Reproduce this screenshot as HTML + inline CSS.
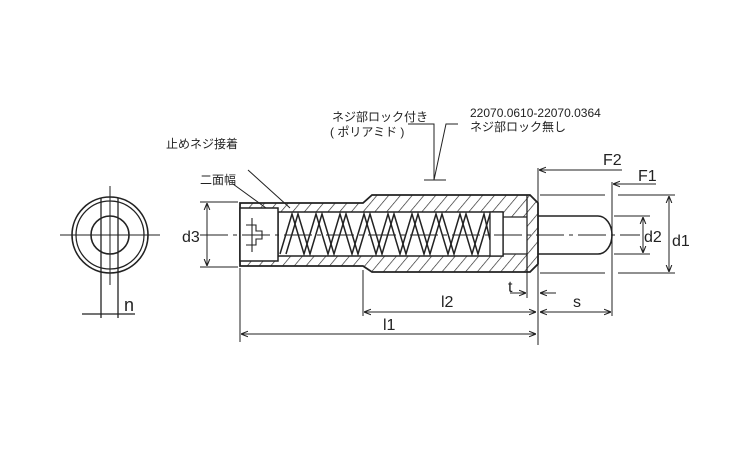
<!DOCTYPE html>
<html><head><meta charset="utf-8"><style>
html,body{margin:0;padding:0;background:#fff;}
svg{display:block;}
text{font-family:"Liberation Sans","Noto Sans CJK JP",sans-serif;fill:#222;}
</style></head><body>
<svg width="750" height="450" viewBox="0 0 750 450" xmlns="http://www.w3.org/2000/svg">
<defs>
<pattern id="h" width="9" height="9" patternUnits="userSpaceOnUse" patternTransform="rotate(40)">
<line x1="0" y1="0" x2="0" y2="9" stroke="#222" stroke-width="1.3"/>
</pattern>
<marker id="a" viewBox="0 0 10 10" refX="10" refY="5" markerWidth="7" markerHeight="7" orient="auto-start-reverse"><path d="M0,1 L10,5 L0,9" fill="none" stroke="#222" stroke-width="1.5"/></marker>
</defs>
<g fill="none" stroke="#222" stroke-width="1.3">
<circle cx="110" cy="235" r="38" stroke-width="1.6"/>
<circle cx="110" cy="235" r="34"/>
<circle cx="110" cy="235" r="19" stroke-width="1.6"/>
<line x1="101" y1="198" x2="101" y2="318"/><line x1="118" y1="198" x2="118" y2="318"/>
<line x1="60" y1="235" x2="160" y2="235" stroke-width="1"/>
<line x1="110" y1="186" x2="110" y2="285" stroke-width="1"/>
<line x1="82" y1="314" x2="135" y2="314"/>
<path d="M240,203 L363,203 L372,195 L530,195 L538,203 L538,264 L530,272 L372,272 L363,266 L240,266 Z
M278,212 L503,212 L503,217 L527,217 L527,254 L503,254 L503,256 L278,256 Z" fill="url(#h)" fill-rule="evenodd" stroke="none"/>
<path d="M240,203 L363,203 L372,195 L530,195 L538,203 L538,264 L530,272 L372,272 L363,266 L240,266 Z" stroke-width="1.8"/>
<path d="M278,212 L503,212 L503,256 L278,256 Z" stroke-width="1.5"/>
<line x1="527" y1="195" x2="527" y2="272"/>
<line x1="503" y1="217" x2="527" y2="217"/><line x1="503" y1="254" x2="527" y2="254"/>
<rect x="240" y="208" width="38" height="53" fill="#fff" stroke-width="1.5"/>
<path d="M246,225 h10 v6 h6 v8 h-6 v6 h-10 M252,218 v34 M256,231 h4" stroke-width="1.1"/>
<!-- spring -->
<path d="M280,254 L292,214 L304,254 L316,214 L328,254 L340,214 L352,254 L364,214 L376,254 L388,214 L400,254 L412,214 L424,254 L436,214 L448,254 L460,214 L472,254 L484,214 L490,240" stroke-width="1.5"/>
<path d="M286,254 L298,214 L310,254 L322,214 L334,254 L346,214 L358,254 L370,214 L382,254 L394,214 L406,254 L418,214 L430,254 L442,214 L454,254 L466,214 L478,254 L490,214" stroke-width="1.5"/>
<rect x="490" y="212" width="13" height="44" fill="#fff" stroke-width="1.3"/>
<path d="M538,216 L598,216 A14,19 0 0 1 598,254 L538,254" stroke-width="1.6"/>
<line x1="200" y1="235" x2="640" y2="235" stroke-width="1" stroke-dasharray="28,5,4,5"/>
<path d="M233,184 L266,208 M248,170 L290,208" stroke-width="1"/>
<path d="M408,124 L434,124 L434,180 L446,124 L458,124 M424,180 L446,180" stroke-width="1"/>
<g stroke-width="1">
<line x1="200" y1="202" x2="238" y2="202"/><line x1="200" y1="267" x2="238" y2="267"/>
<line x1="207" y1="203" x2="207" y2="266" marker-start="url(#a)" marker-end="url(#a)"/>
<line x1="540" y1="195" x2="605" y2="195"/><line x1="618" y1="195" x2="675" y2="195"/>
<line x1="540" y1="273" x2="605" y2="273"/><line x1="618" y1="273" x2="675" y2="273"/>
<line x1="614" y1="216" x2="650" y2="216"/><line x1="614" y1="254" x2="650" y2="254"/>
<line x1="669" y1="196" x2="669" y2="272" marker-start="url(#a)" marker-end="url(#a)"/>
<line x1="643" y1="217" x2="643" y2="253" marker-start="url(#a)" marker-end="url(#a)"/>
<line x1="538" y1="168" x2="538" y2="345"/>
<line x1="612" y1="182" x2="612" y2="316"/>
<line x1="539" y1="170" x2="622" y2="170" marker-start="url(#a)"/>
<line x1="613" y1="184" x2="656" y2="184" marker-start="url(#a)"/>
<line x1="240" y1="268" x2="240" y2="342"/>
<line x1="363" y1="270" x2="363" y2="316"/>
<line x1="527" y1="272" x2="527" y2="298"/>
<line x1="364" y1="312" x2="536" y2="312" marker-start="url(#a)" marker-end="url(#a)"/>
<line x1="540" y1="312" x2="611" y2="312" marker-start="url(#a)" marker-end="url(#a)"/>
<line x1="241" y1="334" x2="536" y2="334" marker-start="url(#a)" marker-end="url(#a)"/>
<line x1="510" y1="293" x2="526" y2="293" marker-end="url(#a)"/>
<line x1="556" y1="293" x2="540" y2="293" marker-end="url(#a)"/>
</g>
</g>
<g font-size="12">
<text x="166" y="148">止めネジ接着</text>
<text x="200" y="184">二面幅</text>
<text x="332" y="121">ネジ部ロック付き</text>
<text x="330" y="136">( ポリアミド )</text>
<text x="470" y="117">22070.0610-22070.0364</text>
<text x="470" y="131">ネジ部ロック無し</text>
</g>
<g font-size="16">
<text x="182" y="242">d3</text>
<text x="644" y="242">d2</text>
<text x="672" y="246">d1</text>
<text x="603" y="165">F2</text>
<text x="638" y="181">F1</text>
<text x="124" y="311" font-size="18">n</text>
<text x="441" y="307">l2</text>
<text x="383" y="330">l1</text>
<text x="508" y="292">t</text>
<text x="573" y="307">s</text>
</g>
</svg>
</body></html>
